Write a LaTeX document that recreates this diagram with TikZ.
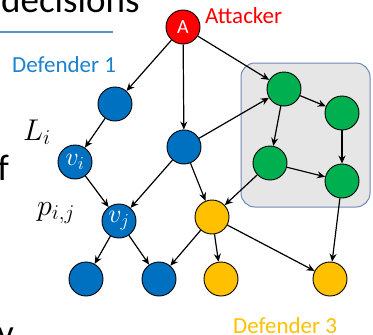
\RequirePackage{fix-cm}
\documentclass[tikz,border=0pt]{standalone}
\usepackage{fontspec}
\setmainfont{Carlito}
\usetikzlibrary{arrows.meta}
\definecolor{nblue}{HTML}{0070C0}
\definecolor{nred}{HTML}{FF0000}
\definecolor{ngreen}{HTML}{00B050}
\definecolor{nyellow}{HTML}{FFC000}
\definecolor{tblue}{HTML}{1A82D0}
\definecolor{boxgray}{HTML}{E6E6E6}
\definecolor{boxedge}{HTML}{7088B8}
\definecolor{rulecol}{HTML}{5B8FD0}
\begin{document}
\begin{tikzpicture}[x=1pt,y=-1pt,
  vert/.style={circle, draw=black, line width=0.9pt, minimum size=34pt, inner sep=0pt,
    text=white, font=\fontsize{20}{20}\selectfont},
  mvert/.style={vert, font=\fontsize{26}{26}\selectfont},
  bl/.style={vert, fill=nblue},
  gr/.style={vert, fill=ngreen},
  yl/.style={vert, fill=nyellow},
  rd/.style={vert, fill=nred},
  link/.style={-{Stealth[length=8pt,width=7pt]}, line width=1.2pt, black},
  lbl/.style={font=\fontsize{23}{23}\selectfont, inner sep=0pt},
  mlbl/.style={font=\fontsize{30}{30}\selectfont, inner sep=0pt},
  big/.style={font=\fontsize{37}{37}\selectfont, inner sep=0pt, text=black}]
\useasboundingbox (0,0) rectangle (373,335);
\clip (0,0) rectangle (373,335);

% surrounding slide text
\node[big, anchor=base west] (dec) at (1,12) {decisions};
\draw[rulecol, line width=1.4pt] (0,32) -- (113,32);
\node[big, anchor=base east] (eff) at (9,180) {f};
\node[big, anchor=base east] (semi) at (3,212) {;};
\node[big, anchor=base west] (yy) at (-3,345) {y};

% grouped region of defender 2
\draw[rounded corners=14pt, fill=boxgray, draw=boxedge, line width=1pt] (241,63) rectangle (370,207);

% vertices
\node[rd] (A) at (183,27) {A};
\node[bl] (B1) at (115,104) {};
\node[bl, mvert] (vi) at (75,162) {$v_i$};
\node[bl] (Bm) at (184,147) {};
\node[bl, mvert] (vj) at (119,221) {$v_j$};
\node[yl] (Y1) at (212,217) {};
\node[gr] (G1) at (284,89) {};
\node[gr] (G2) at (342,113) {};
\node[gr] (G3) at (270,163) {};
\node[gr] (G4) at (342,181) {};
\node[bl] (Bb1) at (86,279) {};
\node[bl] (Bb2) at (159,279) {};
\node[yl] (Yb1) at (221,279) {};
\node[yl] (Yb2) at (330,279) {};

% edges
\draw[link] (A) -- (B1);
\draw[link] (A) -- (Bm);
\draw[link] (A) -- (G1);
\draw[link] (B1) -- (vi);
\draw[link] (vi) -- (vj);
\draw[link] (Bm) -- (vj);
\draw[link] (Bm) -- (G1);
\draw[link] (Bm) -- (Y1);
\draw[link] (G1) -- (G2);
\draw[link] (G1) -- (G3);
\draw[link] (G2) -- (G4);
\draw[link] (G3) -- (G4);
\draw[link] (G3) -- (Y1);
\draw[link] (G4) -- (Yb2);
\draw[link] (vj) -- (Bb1);
\draw[link] (vj) -- (Bb2);
\draw[link] (Y1) -- (Bb2);
\draw[link] (Y1) -- (Yb1);
\draw[link] (Y1) -- (Yb2);

% labels
\node[lbl, text=nred, anchor=base west] (att) at (205,23) {Attacker};
\node[lbl, text=tblue, anchor=base west] (d1) at (12,72) {Defender 1};
\node[lbl, text=nyellow, anchor=base west] (d3) at (233,333) {Defender 3};
\node[mlbl, anchor=base west] (Li) at (23,140) {$L_i$};
\node[mlbl, anchor=base west] (pij) at (37,215) {$p_{i,j}$};
\end{tikzpicture}
\end{document}
